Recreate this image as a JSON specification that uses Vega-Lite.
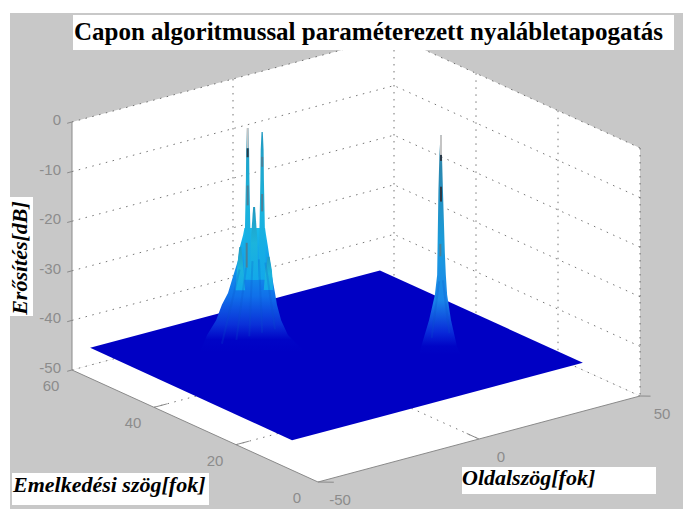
{
"$schema":"https://vega.github.io/schema/vega-lite/v6.json",
"width":673,"height":496,
"autosize":{"type":"none"},
"padding":{"left":10,"top":13,"right":0,"bottom":0},
"background":"#ffffff",
"view":{"fill":"#c8c8c8","stroke":null},
"data":{"values":[
{"resz":"fal","id":"b","oldal":-50,"emel":60,"db":0,"oldal2":-50,"emel2":60,"db2":-50},
{"resz":"fal","id":"b","oldal":50,"emel":60,"db":0,"oldal2":50,"emel2":60,"db2":-50},
{"resz":"fal","id":"j","oldal":50,"emel":60,"db":0,"oldal2":50,"emel2":60,"db2":-50},
{"resz":"fal","id":"j","oldal":50,"emel":0,"db":0,"oldal2":50,"emel2":0,"db2":-50},
{"resz":"fal","id":"p","oldal":-50,"emel":60,"db":-50,"oldal2":-50,"emel2":60,"db2":-50},
{"resz":"fal","id":"p","oldal":26.4,"emel":60,"db":-50,"oldal2":-50,"emel2":0,"db2":-50},
{"resz":"fal","id":"p","oldal":50,"emel":60,"db":-50,"oldal2":-26.4,"emel2":0,"db2":-50},
{"resz":"fal","id":"p","oldal":50,"emel":0,"db":-50,"oldal2":50,"emel2":0,"db2":-50},

{"resz":"felulet","oldal":-45,"emel":59.5,"db":-46.2,"oldal2":-45,"emel2":59.5,"db2":-46.2},
{"resz":"felulet","oldal":17.7,"emel":59.5,"db":-46.2,"oldal2":-45,"emel2":10,"db2":-46.2},
{"resz":"felulet","oldal":45,"emel":59.5,"db":-46.2,"oldal2":-18,"emel2":10,"db2":-46.2},
{"resz":"felulet","oldal":45,"emel":10,"db":-46.2,"oldal2":45,"emel2":10,"db2":-46.2},

{"resz":"racs","id":"z0","oldal":-50,"emel":60,"db":0},{"resz":"racs","id":"z0","oldal":50,"emel":60,"db":0},{"resz":"racs","id":"z0","oldal":50,"emel":0,"db":0},
{"resz":"racs","id":"z1","oldal":-50,"emel":60,"db":-10},{"resz":"racs","id":"z1","oldal":50,"emel":60,"db":-10},{"resz":"racs","id":"z1","oldal":50,"emel":0,"db":-10},
{"resz":"racs","id":"z2","oldal":-50,"emel":60,"db":-20},{"resz":"racs","id":"z2","oldal":50,"emel":60,"db":-20},{"resz":"racs","id":"z2","oldal":50,"emel":0,"db":-20},
{"resz":"racs","id":"z3","oldal":-50,"emel":60,"db":-30},{"resz":"racs","id":"z3","oldal":50,"emel":60,"db":-30},{"resz":"racs","id":"z3","oldal":50,"emel":0,"db":-30},
{"resz":"racs","id":"z4","oldal":-50,"emel":60,"db":-40},{"resz":"racs","id":"z4","oldal":50,"emel":60,"db":-40},{"resz":"racs","id":"z4","oldal":50,"emel":0,"db":-40},
{"resz":"racs","id":"z5","oldal":-50,"emel":60,"db":-50},{"resz":"racs","id":"z5","oldal":50,"emel":60,"db":-50},{"resz":"racs","id":"z5","oldal":50,"emel":0,"db":-50},
{"resz":"racs","id":"v1","oldal":0,"emel":60,"db":0},{"resz":"racs","id":"v1","oldal":0,"emel":60,"db":-50},
{"resz":"racs","id":"v2","oldal":50,"emel":60,"db":0},{"resz":"racs","id":"v2","oldal":50,"emel":60,"db":-50},
{"resz":"racs","id":"v3","oldal":50,"emel":40,"db":0},{"resz":"racs","id":"v3","oldal":50,"emel":40,"db":-50},
{"resz":"racs","id":"v4","oldal":50,"emel":20,"db":0},{"resz":"racs","id":"v4","oldal":50,"emel":20,"db":-50},
{"resz":"racs","id":"v5","oldal":50,"emel":0,"db":0},{"resz":"racs","id":"v5","oldal":50,"emel":0,"db":-50},
{"resz":"racs","id":"f1","oldal":0,"emel":60,"db":-50},{"resz":"racs","id":"f1","oldal":0,"emel":0,"db":-50},
{"resz":"racs","id":"f2","oldal":-50,"emel":40,"db":-50},{"resz":"racs","id":"f2","oldal":50,"emel":40,"db":-50},
{"resz":"racs","id":"f3","oldal":-50,"emel":20,"db":-50},{"resz":"racs","id":"f3","oldal":50,"emel":20,"db":-50},

{"resz":"tengely","id":"a1","oldal":-50,"emel":60,"db":0},{"resz":"tengely","id":"a1","oldal":-50,"emel":60,"db":-50},
{"resz":"tengely","id":"a2","oldal":-50,"emel":60,"db":-50},{"resz":"tengely","id":"a2","oldal":-50,"emel":0,"db":-50},{"resz":"tengely","id":"a2","oldal":50,"emel":0,"db":-50},
{"resz":"tengely","id":"t0","oldal":-51.5,"emel":60,"db":0},{"resz":"tengely","id":"t0","oldal":-50,"emel":60,"db":0},
{"resz":"tengely","id":"t1","oldal":-51.5,"emel":60,"db":-10},{"resz":"tengely","id":"t1","oldal":-50,"emel":60,"db":-10},
{"resz":"tengely","id":"t2","oldal":-51.5,"emel":60,"db":-20},{"resz":"tengely","id":"t2","oldal":-50,"emel":60,"db":-20},
{"resz":"tengely","id":"t3","oldal":-51.5,"emel":60,"db":-30},{"resz":"tengely","id":"t3","oldal":-50,"emel":60,"db":-30},
{"resz":"tengely","id":"t4","oldal":-51.5,"emel":60,"db":-40},{"resz":"tengely","id":"t4","oldal":-50,"emel":60,"db":-40},
{"resz":"tengely","id":"t5","oldal":-51.5,"emel":60,"db":-50},{"resz":"tengely","id":"t5","oldal":-50,"emel":60,"db":-50},
{"resz":"tengely","id":"e4","oldal":-50,"emel":40,"db":-50},{"resz":"tengely","id":"e4","oldal":-46,"emel":40,"db":-50},
{"resz":"tengely","id":"e2","oldal":-50,"emel":20,"db":-50},{"resz":"tengely","id":"e2","oldal":-46,"emel":20,"db":-50},
{"resz":"tengely","id":"e0","oldal":-50,"emel":0,"db":-50},{"resz":"tengely","id":"e0","oldal":-47,"emel":-1.5,"db":-50},
{"resz":"tengely","id":"o0","oldal":0,"emel":0,"db":-50},{"resz":"tengely","id":"o0","oldal":0,"emel":3,"db":-50},
{"resz":"tengely","id":"o5","oldal":50,"emel":0,"db":-50},{"resz":"tengely","id":"o5","oldal":52,"emel":-1,"db":-50},

{"resz":"zc","szoveg":"0","oldal":-50,"emel":60,"db":0},
{"resz":"zc","szoveg":"-10","oldal":-50,"emel":60,"db":-10},
{"resz":"zc","szoveg":"-20","oldal":-50,"emel":60,"db":-20},
{"resz":"zc","szoveg":"-30","oldal":-50,"emel":60,"db":-30},
{"resz":"zc","szoveg":"-40","oldal":-50,"emel":60,"db":-40},
{"resz":"zc","szoveg":"-50","oldal":-50,"emel":60,"db":-50},
{"resz":"ec","szoveg":"60","oldal":-50,"emel":60,"db":-50},
{"resz":"ec","szoveg":"40","oldal":-50,"emel":40,"db":-50},
{"resz":"ec","szoveg":"20","oldal":-50,"emel":20,"db":-50},
{"resz":"ec","szoveg":"0","oldal":-50,"emel":0,"db":-50},
{"resz":"oc","szoveg":"-50","oldal":-50,"emel":0,"db":-50},
{"resz":"oc","szoveg":"0","oldal":0,"emel":0,"db":-50},
{"resz":"oc","szoveg":"50","oldal":50,"emel":0,"db":-50},

{"resz":"p1","id":"b","kozep":-10,"emel":47,"db":-48.4,"oldal":-26.8,"oldal2":5.8},
{"resz":"p1","id":"b","kozep":-10,"emel":47,"db":-45,"oldal":-24.6,"oldal2":0.5},
{"resz":"p1","id":"b","kozep":-10,"emel":47,"db":-42,"oldal":-21.8,"oldal2":-1.6},
{"resz":"p1","id":"b","kozep":-10,"emel":47,"db":-38.9,"oldal":-20,"oldal2":-2.9},
{"resz":"p1","id":"b","kozep":-10,"emel":47,"db":-36.5,"oldal":-18.1,"oldal2":-3.5},
{"resz":"p1","id":"b","kozep":-10,"emel":47,"db":-33.3,"oldal":-16.6,"oldal2":-4.4},
{"resz":"p1","id":"b","kozep":-10,"emel":47,"db":-29.9,"oldal":-15,"oldal2":-5.1},
{"resz":"p1","id":"b","kozep":-10,"emel":47,"db":-27.2,"oldal":-14.4,"oldal2":-5.7},
{"resz":"p1","id":"b","kozep":-10,"emel":47,"db":-24.8,"oldal":-13.4,"oldal2":-6.3},
{"resz":"p1","id":"b","kozep":-10,"emel":47,"db":-23.4,"oldal":-13,"oldal2":-6.6},

{"resz":"gerinc","id":"A","kozep":-12,"emel":47,"db":-33.5,"oldal":-13.25,"oldal2":-10.75},
{"resz":"gerinc","id":"A","kozep":-12,"emel":47,"db":-23.5,"oldal":-12.85,"oldal2":-11.15},
{"resz":"gerinc","id":"A","kozep":-12,"emel":47,"db":-13.4,"oldal":-12.55,"oldal2":-11.45},
{"resz":"gerinc","id":"A","kozep":-12,"emel":47,"db":-7.3,"oldal":-12.45,"oldal2":-11.55},
{"resz":"gerinc","id":"A","kozep":-12,"emel":47,"db":-2.9,"oldal":-12.2,"oldal2":-11.8},
{"resz":"gerinc","id":"B","kozep":-7.5,"emel":47,"db":-34.3,"oldal":-8.75,"oldal2":-6.25},
{"resz":"gerinc","id":"B","kozep":-7.5,"emel":47,"db":-24.2,"oldal":-8.35,"oldal2":-6.65},
{"resz":"gerinc","id":"B","kozep":-7.5,"emel":47,"db":-14.2,"oldal":-8.05,"oldal2":-6.95},
{"resz":"gerinc","id":"B","kozep":-7.5,"emel":47,"db":-8.1,"oldal":-7.95,"oldal2":-7.05},
{"resz":"gerinc","id":"B","kozep":-7.5,"emel":47,"db":-4.5,"oldal":-7.7,"oldal2":-7.3},
{"resz":"gerinc","id":"K","kozep":-10,"emel":47,"db":-33.9,"oldal":-11.3,"oldal2":-8.7},
{"resz":"gerinc","id":"K","kozep":-10,"emel":47,"db":-25.8,"oldal":-11,"oldal2":-9},
{"resz":"gerinc","id":"K","kozep":-10,"emel":47,"db":-19.2,"oldal":-10.3,"oldal2":-9.7},
{"resz":"gerinc","id":"L","kozep":-14.3,"emel":47,"db":-35.2,"oldal":-15.8,"oldal2":-12.8},
{"resz":"gerinc","id":"L","kozep":-14.3,"emel":47,"db":-30.1,"oldal":-15.2,"oldal2":-13.4},
{"resz":"gerinc","id":"L","kozep":-14.3,"emel":47,"db":-26.5,"oldal":-14.6,"oldal2":-14},
{"resz":"gerinc","id":"R","kozep":-5.5,"emel":47,"db":-36.7,"oldal":-7,"oldal2":-4},
{"resz":"gerinc","id":"R","kozep":-5.5,"emel":47,"db":-32.6,"oldal":-6.5,"oldal2":-4.5},
{"resz":"gerinc","id":"R","kozep":-5.5,"emel":47,"db":-30,"oldal":-5.8,"oldal2":-5.2},

{"resz":"p2","kozep":26.4,"emel":30,"db":-48.9,"oldal":19.6,"oldal2":32.6},
{"resz":"p2","kozep":26.4,"emel":30,"db":-47.3,"oldal":20.2,"oldal2":31.4},
{"resz":"p2","kozep":26.4,"emel":30,"db":-41.9,"oldal":22.7,"oldal2":29.5},
{"resz":"p2","kozep":26.4,"emel":30,"db":-36.8,"oldal":24.5,"oldal2":28.3},
{"resz":"p2","kozep":26.4,"emel":30,"db":-32.8,"oldal":25.2,"oldal2":27.9},
{"resz":"p2","kozep":26.4,"emel":30,"db":-28.4,"oldal":25.3,"oldal2":27.6},
{"resz":"p2","kozep":26.4,"emel":30,"db":-15.7,"oldal":25.6,"oldal2":27},
{"resz":"p2","kozep":26.4,"emel":30,"db":-8.6,"oldal":25.9,"oldal2":26.7},
{"resz":"p2","kozep":26.4,"emel":30,"db":-4.6,"oldal":26.25,"oldal2":26.55},

{"resz":"barazda","id":"b1","oldal":-14.5,"emel":47,"db":-31},{"resz":"barazda","id":"b1","oldal":-20,"emel":47,"db":-45},
{"resz":"barazda","id":"b2","oldal":-12.5,"emel":47,"db":-31},{"resz":"barazda","id":"b2","oldal":-15.5,"emel":47,"db":-45},
{"resz":"barazda","id":"b3","oldal":-10.5,"emel":47,"db":-30},{"resz":"barazda","id":"b3","oldal":-11.5,"emel":47,"db":-45},
{"resz":"barazda","id":"b4","oldal":-8.5,"emel":47,"db":-30},{"resz":"barazda","id":"b4","oldal":-7.5,"emel":47,"db":-45},
{"resz":"barazda","id":"b5","oldal":-6.5,"emel":47,"db":-31},{"resz":"barazda","id":"b5","oldal":-3.5,"emel":47,"db":-45},
{"resz":"barazda","id":"c1","oldal":25.8,"emel":30,"db":-34},{"resz":"barazda","id":"c1","oldal":23.5,"emel":30,"db":-45},
{"resz":"barazda","id":"c2","oldal":27,"emel":30,"db":-34},{"resz":"barazda","id":"c2","oldal":29,"emel":30,"db":-45},

{"resz":"folt","tipus":"vilagos","oldal":-12,"emel":47,"db":-7,"db2":-2.9},
{"resz":"folt","tipus":"sotet","oldal":-12,"emel":47,"db":-8.8,"db2":-7},
{"resz":"folt","tipus":"kozep","oldal":-12,"emel":47,"db":-18.5,"db2":-14.5},
{"resz":"folt","tipus":"kozep","oldal":-7.5,"emel":47,"db":-11.5,"db2":-9.5},
{"resz":"folt","tipus":"kozep","oldal":-7.5,"emel":47,"db":-20.5,"db2":-17},
{"resz":"folt","tipus":"kozep","oldal":-12.3,"emel":47,"db":-31,"db2":-26},
{"resz":"folt","tipus":"vilagos","oldal":26.4,"emel":30,"db":-8.6,"db2":-4.6},
{"resz":"folt","tipus":"sotet","oldal":26.4,"emel":30,"db":-9.8,"db2":-8.6},
{"resz":"folt","tipus":"sotet","oldal":26.4,"emel":30,"db":-18,"db2":-15},
{"resz":"folt","tipus":"kozep","oldal":26.2,"emel":30,"db":-29,"db2":-26.5},

{"felirat":"cim","szoveg":"Capon algoritmussal paraméterezett nyalábletapogatás"},
{"felirat":"z","szoveg":"Erősítés[dB]"},
{"felirat":"e","szoveg":"Emelkedési szög[fok]"},
{"felirat":"o","szoveg":"Oldalszög[fok]"}
]},
"transform":[
{"calculate":"318+3.22*(datum.oldal+50)-4.1*datum.emel","as":"fx"},
{"calculate":"482-0.86*(datum.oldal+50)-1.8667*datum.emel-4.96*(datum.db+50)","as":"fy"},
{"calculate":"318+3.22*(datum.oldal2+50)-4.1*datum.emel","as":"fxk"},
{"calculate":"482-0.86*(datum.kozep+50)-1.8667*datum.emel-4.96*(datum.db+50)","as":"fyk"},
{"calculate":"482-0.86*(datum.oldal2+50)-1.8667*datum.emel2-4.96*(datum.db2+50)","as":"fy2"},
{"calculate":"482-0.86*(datum.oldal+50)-1.8667*datum.emel-4.96*(datum.db2+50)","as":"fyf"}
],
"layer":[
{"transform":[{"filter":"datum.resz=='fal'"}],
 "mark":{"type":"area","color":"#ffffff","interpolate":"linear"},
 "encoding":{"detail":{"field":"id"},
  "x":{"field":"fx","type":"quantitative","scale":{"domain":[10,683],"nice":false,"zero":false},"axis":null},
  "y":{"field":"fy","type":"quantitative","scale":{"domain":[509,13],"nice":false,"zero":false},"axis":null},
  "y2":{"field":"fy2"}}},
{"transform":[{"filter":"datum.resz=='racs'"}],
 "mark":{"type":"line","color":"#3a3a3a","strokeWidth":1,"strokeDash":[1.5,5.5],"opacity":0.7},
 "encoding":{"detail":{"field":"id"},
  "x":{"field":"fx","type":"quantitative","scale":{"domain":[10,683],"nice":false,"zero":false},"axis":null},
  "y":{"field":"fy","type":"quantitative","scale":{"domain":[509,13],"nice":false,"zero":false},"axis":null}}},
{"transform":[{"filter":"datum.resz=='tengely'"}],
 "mark":{"type":"line","color":"#8a8a8a","strokeWidth":1},
 "encoding":{"detail":{"field":"id"},
  "x":{"field":"fx","type":"quantitative","scale":{"domain":[10,683],"nice":false,"zero":false},"axis":null},
  "y":{"field":"fy","type":"quantitative","scale":{"domain":[509,13],"nice":false,"zero":false},"axis":null}}},
{"transform":[{"filter":"datum.resz=='felulet'"}],
 "mark":{"type":"area","color":"#0000c4"},
 "encoding":{
  "x":{"field":"fx","type":"quantitative","scale":{"domain":[10,683],"nice":false,"zero":false},"axis":null},
  "y":{"field":"fy","type":"quantitative","scale":{"domain":[509,13],"nice":false,"zero":false},"axis":null},
  "y2":{"field":"fy2"}}},
{"transform":[{"filter":"datum.resz=='p1'"}],
 "mark":{"type":"area","orient":"horizontal","color":{"gradient":"linear","x1":0,"y1":1,"x2":0,"y2":0,"stops":[{"offset":0,"color":"#0000c4"},{"offset":0.1,"color":"#0004c6"},{"offset":0.22,"color":"#0a30d8"},{"offset":0.45,"color":"#1070ea"},{"offset":0.75,"color":"#12a0ea"},{"offset":1,"color":"#18bcea"}]}},
 "encoding":{
  "x":{"field":"fx","type":"quantitative","scale":{"domain":[10,683],"nice":false,"zero":false},"axis":null},
  "x2":{"field":"fxk"},
  "y":{"field":"fyk","type":"quantitative","scale":{"domain":[509,13],"nice":false,"zero":false},"axis":null}}},
{"transform":[{"filter":"datum.resz=='gerinc'"}],
 "mark":{"type":"area","orient":"horizontal","color":{"gradient":"linear","x1":0,"y1":1,"x2":0,"y2":0,"stops":[{"offset":0,"color":"#12a8ea"},{"offset":0.5,"color":"#1cb4dc"},{"offset":1,"color":"#2299c0"}]}},
 "encoding":{"detail":{"field":"id"},
  "x":{"field":"fx","type":"quantitative","scale":{"domain":[10,683],"nice":false,"zero":false},"axis":null},
  "x2":{"field":"fxk"},
  "y":{"field":"fyk","type":"quantitative","scale":{"domain":[509,13],"nice":false,"zero":false},"axis":null}}},
{"transform":[{"filter":"datum.resz=='p2'"}],
 "mark":{"type":"area","orient":"horizontal","color":{"gradient":"linear","x1":0,"y1":1,"x2":0,"y2":0,"stops":[{"offset":0,"color":"#0000c4"},{"offset":0.04,"color":"#0004c6"},{"offset":0.1,"color":"#0828d8"},{"offset":0.25,"color":"#1a86ea"},{"offset":0.5,"color":"#1a9cdc"},{"offset":0.85,"color":"#2a88b0"},{"offset":1,"color":"#3a8aa8"}]}},
 "encoding":{
  "x":{"field":"fx","type":"quantitative","scale":{"domain":[10,683],"nice":false,"zero":false},"axis":null},
  "x2":{"field":"fxk"},
  "y":{"field":"fyk","type":"quantitative","scale":{"domain":[509,13],"nice":false,"zero":false},"axis":null}}},
{"transform":[{"filter":"datum.resz=='barazda'"}],
 "mark":{"type":"line","color":"#0a50c8","strokeWidth":2,"opacity":0.22},
 "encoding":{"detail":{"field":"id"},
  "x":{"field":"fx","type":"quantitative","scale":{"domain":[10,683],"nice":false,"zero":false},"axis":null},
  "y":{"field":"fy","type":"quantitative","scale":{"domain":[509,13],"nice":false,"zero":false},"axis":null}}},
{"transform":[{"filter":"datum.resz=='folt'"}],
 "mark":{"type":"rule","strokeWidth":2},
 "encoding":{
  "color":{"field":"tipus","type":"nominal","legend":null,"scale":{"domain":["vilagos","sotet","kozep"],"range":["#c4c4c4","#2a3a48","#4a7f98"]}},
  "x":{"field":"fx","type":"quantitative","scale":{"domain":[10,683],"nice":false,"zero":false},"axis":null},
  "y":{"field":"fy","type":"quantitative","scale":{"domain":[509,13],"nice":false,"zero":false},"axis":null},
  "y2":{"field":"fyf"}}},
{"transform":[{"filter":"datum.resz=='zc'"}],
 "mark":{"type":"text","align":"right","baseline":"middle","dx":-11,"dy":-2,"font":"Liberation Sans","fontSize":15,"color":"#8c8c8c"},
 "encoding":{"text":{"field":"szoveg"},
  "x":{"field":"fx","type":"quantitative","scale":{"domain":[10,683],"nice":false,"zero":false},"axis":null},
  "y":{"field":"fy","type":"quantitative","scale":{"domain":[509,13],"nice":false,"zero":false},"axis":null}}},
{"transform":[{"filter":"datum.resz=='ec'"}],
 "mark":{"type":"text","align":"center","baseline":"middle","dx":-21,"dy":16,"font":"Liberation Sans","fontSize":15,"color":"#8c8c8c"},
 "encoding":{"text":{"field":"szoveg"},
  "x":{"field":"fx","type":"quantitative","scale":{"domain":[10,683],"nice":false,"zero":false},"axis":null},
  "y":{"field":"fy","type":"quantitative","scale":{"domain":[509,13],"nice":false,"zero":false},"axis":null}}},
{"transform":[{"filter":"datum.resz=='oc'"}],
 "mark":{"type":"text","align":"center","baseline":"middle","dx":22,"dy":18,"font":"Liberation Sans","fontSize":15,"color":"#8c8c8c"},
 "encoding":{"text":{"field":"szoveg"},
  "x":{"field":"fx","type":"quantitative","scale":{"domain":[10,683],"nice":false,"zero":false},"axis":null},
  "y":{"field":"fy","type":"quantitative","scale":{"domain":[509,13],"nice":false,"zero":false},"axis":null}}},
{"transform":[{"filter":"datum.felirat=='cim'"}],
 "mark":{"type":"rect","color":"#ffffff"},
 "encoding":{
  "x":{"datum":73,"type":"quantitative","scale":{"domain":[10,683],"nice":false,"zero":false},"axis":null},
  "x2":{"datum":674},
  "y":{"datum":15,"type":"quantitative","scale":{"domain":[509,13],"nice":false,"zero":false},"axis":null},
  "y2":{"datum":50}}},
{"transform":[{"filter":"datum.felirat=='z'"}],
 "mark":{"type":"rect","color":"#ffffff"},
 "encoding":{
  "x":{"datum":10,"type":"quantitative","scale":{"domain":[10,683],"nice":false,"zero":false},"axis":null},
  "x2":{"datum":33},
  "y":{"datum":197,"type":"quantitative","scale":{"domain":[509,13],"nice":false,"zero":false},"axis":null},
  "y2":{"datum":316}}},
{"transform":[{"filter":"datum.felirat=='e'"}],
 "mark":{"type":"rect","color":"#ffffff"},
 "encoding":{
  "x":{"datum":12,"type":"quantitative","scale":{"domain":[10,683],"nice":false,"zero":false},"axis":null},
  "x2":{"datum":209},
  "y":{"datum":473,"type":"quantitative","scale":{"domain":[509,13],"nice":false,"zero":false},"axis":null},
  "y2":{"datum":505}}},
{"transform":[{"filter":"datum.felirat=='o'"}],
 "mark":{"type":"rect","color":"#ffffff"},
 "encoding":{
  "x":{"datum":462,"type":"quantitative","scale":{"domain":[10,683],"nice":false,"zero":false},"axis":null},
  "x2":{"datum":656},
  "y":{"datum":467,"type":"quantitative","scale":{"domain":[509,13],"nice":false,"zero":false},"axis":null},
  "y2":{"datum":494}}},
{"transform":[{"filter":"datum.felirat=='cim'"}],
 "mark":{"type":"text","align":"left","baseline":"middle","font":"Liberation Serif","fontWeight":"bold","fontSize":25,"color":"#000000"},
 "encoding":{"text":{"field":"szoveg"},
  "x":{"datum":74,"type":"quantitative","scale":{"domain":[10,683],"nice":false,"zero":false},"axis":null},
  "y":{"datum":32,"type":"quantitative","scale":{"domain":[509,13],"nice":false,"zero":false},"axis":null}}},
{"transform":[{"filter":"datum.felirat=='z'"}],
 "mark":{"type":"text","align":"center","baseline":"middle","angle":270,"font":"Liberation Serif","fontWeight":"bold","fontStyle":"italic","fontSize":22,"color":"#000000"},
 "encoding":{"text":{"field":"szoveg"},
  "x":{"datum":20,"type":"quantitative","scale":{"domain":[10,683],"nice":false,"zero":false},"axis":null},
  "y":{"datum":258,"type":"quantitative","scale":{"domain":[509,13],"nice":false,"zero":false},"axis":null}}},
{"transform":[{"filter":"datum.felirat=='e'"}],
 "mark":{"type":"text","align":"left","baseline":"middle","font":"Liberation Serif","fontWeight":"bold","fontStyle":"italic","fontSize":22,"color":"#000000"},
 "encoding":{"text":{"field":"szoveg"},
  "x":{"datum":13,"type":"quantitative","scale":{"domain":[10,683],"nice":false,"zero":false},"axis":null},
  "y":{"datum":485,"type":"quantitative","scale":{"domain":[509,13],"nice":false,"zero":false},"axis":null}}},
{"transform":[{"filter":"datum.felirat=='o'"}],
 "mark":{"type":"text","align":"left","baseline":"middle","font":"Liberation Serif","fontWeight":"bold","fontStyle":"italic","fontSize":22,"color":"#000000"},
 "encoding":{"text":{"field":"szoveg"},
  "x":{"datum":462,"type":"quantitative","scale":{"domain":[10,683],"nice":false,"zero":false},"axis":null},
  "y":{"datum":478,"type":"quantitative","scale":{"domain":[509,13],"nice":false,"zero":false},"axis":null}}}
]
}
